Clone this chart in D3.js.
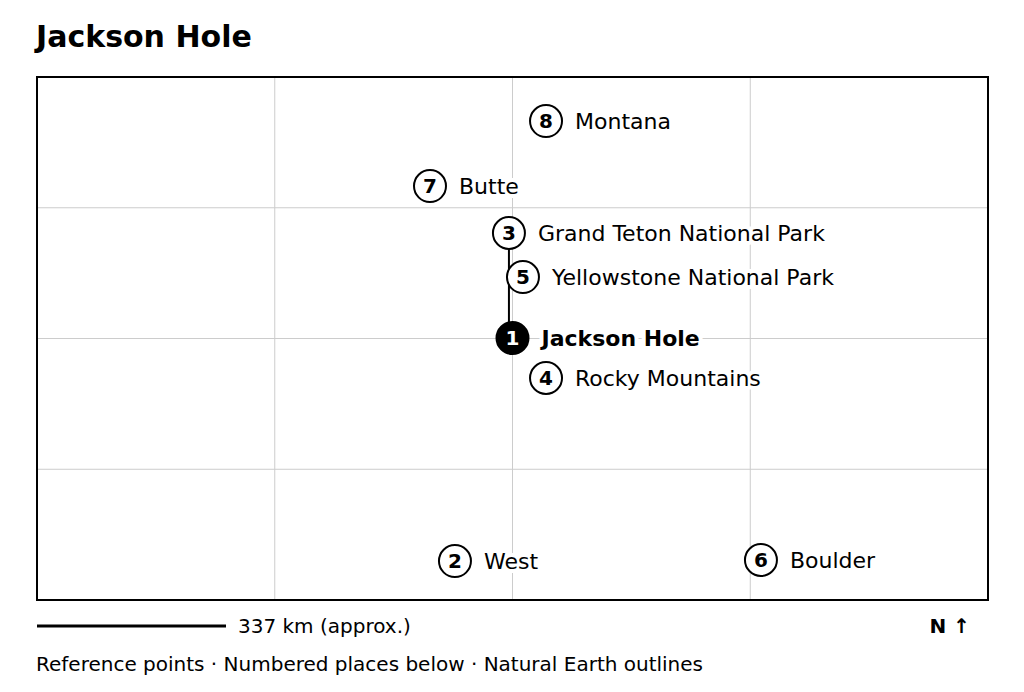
<!DOCTYPE html>
<html><head><meta charset="utf-8">
<script src="https://cdn.jsdelivr.net/npm/d3@7"></script>
<style>body{margin:0;background:#fff;font-family:"DejaVu Sans",sans-serif}</style>
</head><body><svg id="c" width="1024" height="692"></svg>
<script>
const ids=[1,2,3,4,5,6,7,8];
const names=["Jackson Hole","West","Grand Teton National Park","Rocky Mountains","Yellowstone National Park","Boulder","Butte","Montana"];
const xs=[2.0,1.758,1.985,2.141,2.044,3.045,1.653,2.141];
const ys=[2.004,0.298,2.807,1.698,2.470,0.306,3.166,3.663];
const gridTicks=[1,2,3];
const svg=d3.select("#c");
const x=d3.scaleLinear().domain([0,4]).range([37,988]);
const y=d3.scaleLinear().domain([0,4]).range([600,77]);
svg.append("text").attr("x",36).attr("y",47).attr("font-size",30).attr("font-weight","bold").text("Jackson Hole");
const g=svg.append("g");
g.selectAll(".vx").data(gridTicks).join("line").attr("x1",d=>x(d)).attr("x2",d=>x(d)).attr("y1",77).attr("y2",600).attr("stroke","#ccc");
g.selectAll(".hy").data(gridTicks).join("line").attr("y1",d=>y(d)).attr("y2",d=>y(d)).attr("x1",37).attr("x2",988).attr("stroke","#ccc");
g.append("line").attr("x1",x(xs[2])).attr("x2",x(xs[2])).attr("y1",y(ys[2])).attr("y2",y(ys[0])).attr("stroke","#000").attr("stroke-width",2);
const pts=ids.map((id,i)=>({id,name:names[i],x:xs[i],y:ys[i]}));
g.selectAll(".l").data(pts).join("text").attr("x",d=>x(d.x)+29).attr("y",d=>y(d.y)+8).attr("font-size",22)
 .attr("font-weight",d=>d.id===1?"bold":"normal").attr("stroke","#fff").attr("stroke-width",8).attr("paint-order","stroke").attr("stroke-linejoin","round").text(d=>d.name);
g.selectAll(".c").data(pts).join("circle").attr("cx",d=>x(d.x)).attr("cy",d=>y(d.y)).attr("r",16)
 .attr("fill",d=>d.id===1?"#000":"#fff").attr("stroke","#000").attr("stroke-width",2);
g.selectAll(".n").data(pts).join("text").attr("x",d=>x(d.x)).attr("y",d=>y(d.y)+7).attr("text-anchor","middle").attr("font-size",20).attr("font-weight","bold")
 .attr("fill",d=>d.id===1?"#fff":"#000").text(d=>d.id);
svg.append("rect").attr("x",37).attr("y",77).attr("width",951).attr("height",523).attr("fill","none").attr("stroke","#000").attr("stroke-width",2);
svg.append("line").attr("x1",37).attr("x2",226).attr("y1",626).attr("y2",626).attr("stroke","#000").attr("stroke-width",3);
svg.append("text").attr("x",238).attr("y",633).attr("font-size",20).text("337 km (approx.)");
svg.append("text").attr("x",970).attr("y",633).attr("text-anchor","end").attr("font-size",20).attr("font-weight","bold").text("N ↑");
svg.append("text").attr("x",36).attr("y",671).attr("font-size",20).text("Reference points · Numbered places below · Natural Earth outlines");
</script></body></html>
